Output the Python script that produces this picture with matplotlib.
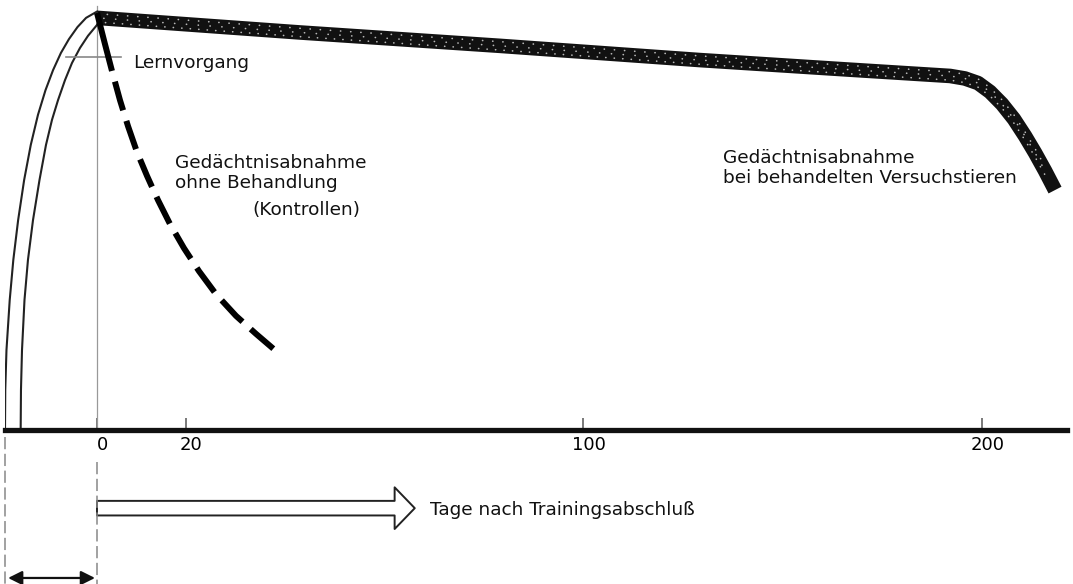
import numpy as np
import matplotlib
matplotlib.use('Agg')
import matplotlib.pyplot as plt
from matplotlib import transforms
from matplotlib.patches import FancyArrowPatch

# Days (negative = training period) and retention in % of the learned level
learn_outer_days = [-20.67, -20.61, -20.34, -19.61, -18.80, -17.72, -16.37, -14.88, -13.26, -11.57,
                    -9.87, -8.11, -6.31, -4.38, -2.45, 0.0]
learn_outer_level = [0.0, 9.6, 19.1, 31.1, 40.7, 50.2, 59.8, 68.2, 75.4, 81.3,
                     86.1, 90.2, 93.5, 96.4, 98.6, 100.1]
learn_inner_days = [-17.15, -17.08, -16.85, -16.29, -15.51, -14.38, -12.92, -11.46, -10.11, -8.76,
                    -7.19, -5.62, -3.82, -2.02, 0.0]
learn_inner_level = [0.0, 9.6, 19.1, 31.1, 40.7, 50.2, 59.8, 68.2, 74.2, 78.9,
                     83.7, 87.8, 91.4, 94.3, 96.9]

# untreated controls
control_days = [0.0, 1.80, 3.37, 5.17, 6.97, 8.99, 11.24, 13.71, 16.40, 19.55,
                22.62, 26.05, 30.08, 34.11, 38.14]
control_level = [99.8, 92.3, 85.9, 78.9, 72.7, 66.5, 60.8, 55.0, 49.3, 43.5,
                 38.0, 32.5, 27.3, 23.0, 18.9]

# treated animals
treated_days = [0.0, 43.0, 83.3, 129.3, 166.9, 192.0, 195.7, 199.0, 202.0, 205.0,
                208.0, 210.8, 213.3, 215.8, 218.3]
treated_level = [98.6, 95.1, 91.9, 88.5, 86.2, 84.7, 84.1, 83.0, 80.9, 78.0,
                 74.4, 70.3, 66.3, 62.0, 57.4]

tick_days = [0, 20, 100, 200]
tick_labels = ['0', '20', '100', '200']
training_start = -20.67

# the printed day axis is not evenly spaced
scale_days = [0, 20, 100, 200]
scale_pos = [0, 89, 486, 885]


def piecewise(v, xs, ys):
    v = np.asarray(v, dtype=float)
    out = np.interp(v, xs, ys)
    lo = (ys[1] - ys[0]) / (xs[1] - xs[0])
    hi = (ys[-1] - ys[-2]) / (xs[-1] - xs[-2])
    out = np.where(v < xs[0], ys[0] + (v - xs[0]) * lo, out)
    out = np.where(v > xs[-1], ys[-1] + (v - xs[-1]) * hi, out)
    return out


def forward(d):
    return piecewise(d, scale_days, scale_pos)


def inverse(p):
    return piecewise(p, scale_pos, scale_days)


fig = plt.figure(figsize=(10.73, 5.84), dpi=100)
ax = fig.add_axes([5 / 1073, 154 / 584, 1062 / 1073, 430 / 584])
ax.set_xscale('function', functions=(forward, inverse))
ax.set_xlim(training_start, 221.3)
ax.set_ylim(0, 102.87)

ink = '#111111'

# axis
for side in ['top', 'left', 'right']:
    ax.spines[side].set_visible(False)
ax.spines['bottom'].set_linewidth(3.8)
ax.spines['bottom'].set_color(ink)
ax.set_yticks([])
ax.set_xticks(tick_days)
ax.set_xticklabels(tick_labels, fontsize=13)
ax.tick_params(axis='x', direction='in', length=9, width=1.1, color='#555555', pad=4)
shift = transforms.ScaledTranslation(0.055, 0, fig.dpi_scale_trans)
for lab in ax.get_xticklabels():
    lab.set_transform(lab.get_transform() + shift)

# end of training marker
ax.axvline(0, ymax=0.985, color='#999999', lw=0.9)

# learning curves
ax.plot(learn_outer_days, learn_outer_level, color='#222222', lw=1.5, solid_joinstyle='round')
ax.plot(learn_inner_days, learn_inner_level, color='#222222', lw=1.5, solid_joinstyle='round')

# crosshair at "Lernvorgang"
ax.plot([-6.9, 5.5], [89.2, 89.2], color='#888888', lw=1.2)

# treated animals: thick speckled band
ax.plot(treated_days, treated_level, color=ink, lw=10.5,
        solid_capstyle='butt', solid_joinstyle='round')
for dy, pat in [(-3, (0.1, 5)), (0, (0.1, 7)), (3, (0.1, 6))]:
    tr = transforms.offset_copy(ax.transData, fig=fig, y=dy, units='points')
    ax.plot(treated_days[:-1], treated_level[:-1], color='white', lw=1.2,
            linestyle=(dy + 3, pat), dash_capstyle='round', alpha=0.7, transform=tr)

# untreated controls
ax.plot(control_days[:3], control_level[:3], color='black', lw=4.3, solid_capstyle='butt')
ax.plot(control_days[2:], control_level[2:], color='black', lw=4.3,
        linestyle=(5, (5, 1.85)), dash_capstyle='butt')

# labels
txt = dict(fontsize=13.3, color=ink, va='baseline', ha='left')
ax.text(8.1, 86.6, 'Lernvorgang', **txt)
ax.text(17.5, 57.9, 'Gedächtnisabnahme\nohne Behandlung', linespacing=1.15, **txt)
ax.text(33.3, 51.4, '(Kontrollen)', **txt)
ax.text(135.1, 59.0, 'Gedächtnisabnahme\nbei behandelten Versuchstieren', linespacing=1.15, **txt)

# below the axis: training period and direction of time
ax.plot([training_start, training_start], [-1.7, -36.8], color='#888888', lw=1.1,
        dashes=(8, 3), clip_on=False)
ax.plot([0, 0], [-7.7, -36.8], color='#888888', lw=1.1, dashes=(8, 3), clip_on=False)

big = FancyArrowPatch((0, -18.7), (66.1, -18.7),
                      arrowstyle='simple,head_length=14.5,head_width=30,tail_width=10.5',
                      mutation_scale=1, shrinkA=0, shrinkB=0,
                      fc='white', ec='#222222', lw=1.4, clip_on=False)
ax.add_patch(big)
ax.text(69.2, -20.3, 'Tage nach Trainingsabschluß', **txt)

span = FancyArrowPatch((training_start + 0.7, -35.4), (-0.45, -35.4),
                       arrowstyle='<|-|>,head_length=0.7,head_width=0.35',
                       mutation_scale=12, shrinkA=0, shrinkB=0,
                       color='#111111', lw=1.6, clip_on=False)
ax.add_patch(span)

fig.savefig('out.png', dpi=100)
